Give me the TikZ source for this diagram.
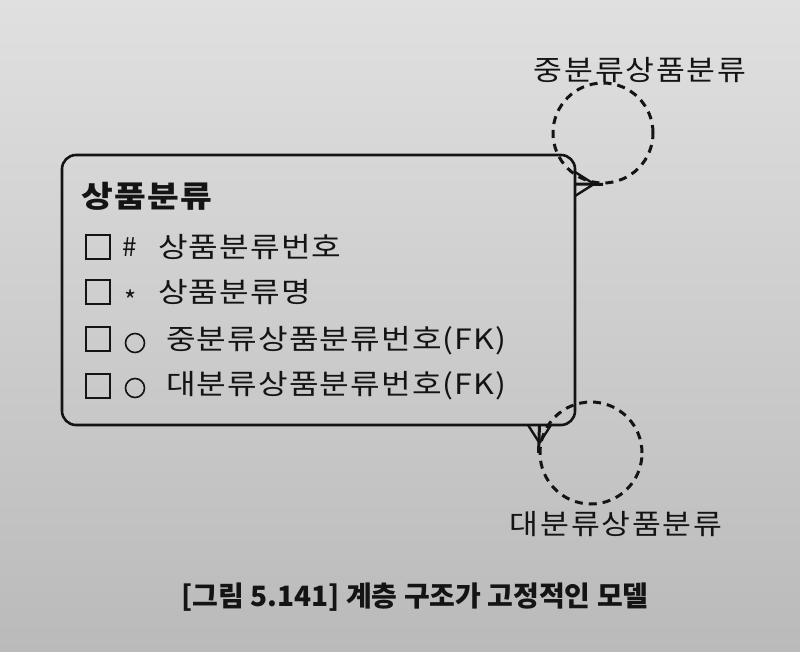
\documentclass[tikz,border=0pt]{standalone}
\usepackage{fontspec}
\newfontfamily\kr{Noto Sans CJK KR}
\newfontfamily\krw[FakeStretch=1.15,LetterSpace=4]{Noto Sans CJK KR}
\newfontfamily\krl[FakeStretch=1.12,LetterSpace=6]{Noto Sans CJK KR}
\definecolor{bgtop}{RGB}{224,224,224}
\definecolor{bgbot}{RGB}{186,186,186}
\definecolor{ink}{RGB}{20,20,20}
\tikzset{
  entity/.style={draw=ink, line width=2.6pt, rounded corners=14pt},
  rel/.style={draw=ink, line width=3pt, dash pattern=on 8pt off 6pt, circle},
  relline/.style={draw=ink, line width=3pt},
  cf/.style={draw=ink, line width=2.4pt},
  attr/.style={anchor=west, inner sep=0pt, font=\krw\fontsize{28}{30}\selectfont, text=ink},
  chk/.style={draw=ink, line width=1.6pt, minimum size=24pt, inner sep=0pt},
  opt/.style={draw=ink, line width=1.6pt, circle, minimum width=19pt, inner sep=0pt},
  lbl/.style={inner sep=0pt, font=\krl\fontsize{28}{30}\selectfont, text=ink},
}
\begin{document}
\begin{tikzpicture}[x=1pt,y=-1pt]
\shade[top color=bgtop, bottom color=bgbot] (0,0) rectangle (800,652);
\useasboundingbox (0,0) rectangle (800,652);

% entity
\node (ent) [entity, minimum width=513pt, minimum height=270pt] at (318.5,290) {};
\node (title) [attr, font=\krw\bfseries\fontsize{30}{32}\selectfont] at (81,196) {상품분류};

\node (b1) [chk] at (98,247) {};
\node (b2) [chk] at (98,292) {};
\node (b3) [chk] at (98,339) {};
\node (b4) [chk] at (98,386) {};

\node (s1) [attr, font=\kr\fontsize{26}{28}\selectfont] at (122,247) {\#};
\node (s2) [attr, font=\kr\fontsize{26}{28}\selectfont] at (124,300) {*};
\node (s3) [opt] at (135,343) {};
\node (s4) [opt] at (135,388) {};

\node (a1) [attr] at (158,247) {상품분류번호};
\node (a2) [attr] at (158,292) {상품분류명};
\node (a3) [attr] at (166,341) {중분류상품분류번호(FK)};
\node (a4) [attr] at (166,386) {대분류상품분류번호(FK)};

% recursive relationships
\node (c1) [rel, minimum size=100pt] at (603,133) {};
\node (c2) [rel, minimum size=102pt] at (591,453) {};

\coordinate (p1) at (575,184);
\coordinate (q1) at (594,184);
\coordinate (p1u) at (575,172);
\coordinate (p1d) at (575,196);
\draw[relline] (p1) -- (c1.south);
\draw[cf] (q1) -- (p1u);
\draw[cf] (q1) -- (p1d);

\coordinate (p2) at (539.5,425);
\coordinate (q2) at (539.5,443);
\coordinate (p2l) at (528,425);
\coordinate (p2r) at (551,425);
\draw[relline] (p2) -- (c2.west);
\draw[cf] (q2) -- (p2l);
\draw[cf] (q2) -- (p2r);

% labels
\node (l1) [lbl] at (640,70) {중분류상품분류};
\node (l2) [lbl] at (616,524) {대분류상품분류};

% caption
\node (cap) [inner sep=0pt, font=\kr\bfseries\fontsize{28}{30}\selectfont, text=ink] at (415,597) {[그림 5.141] 계층 구조가 고정적인 모델};
\end{tikzpicture}
\end{document}
